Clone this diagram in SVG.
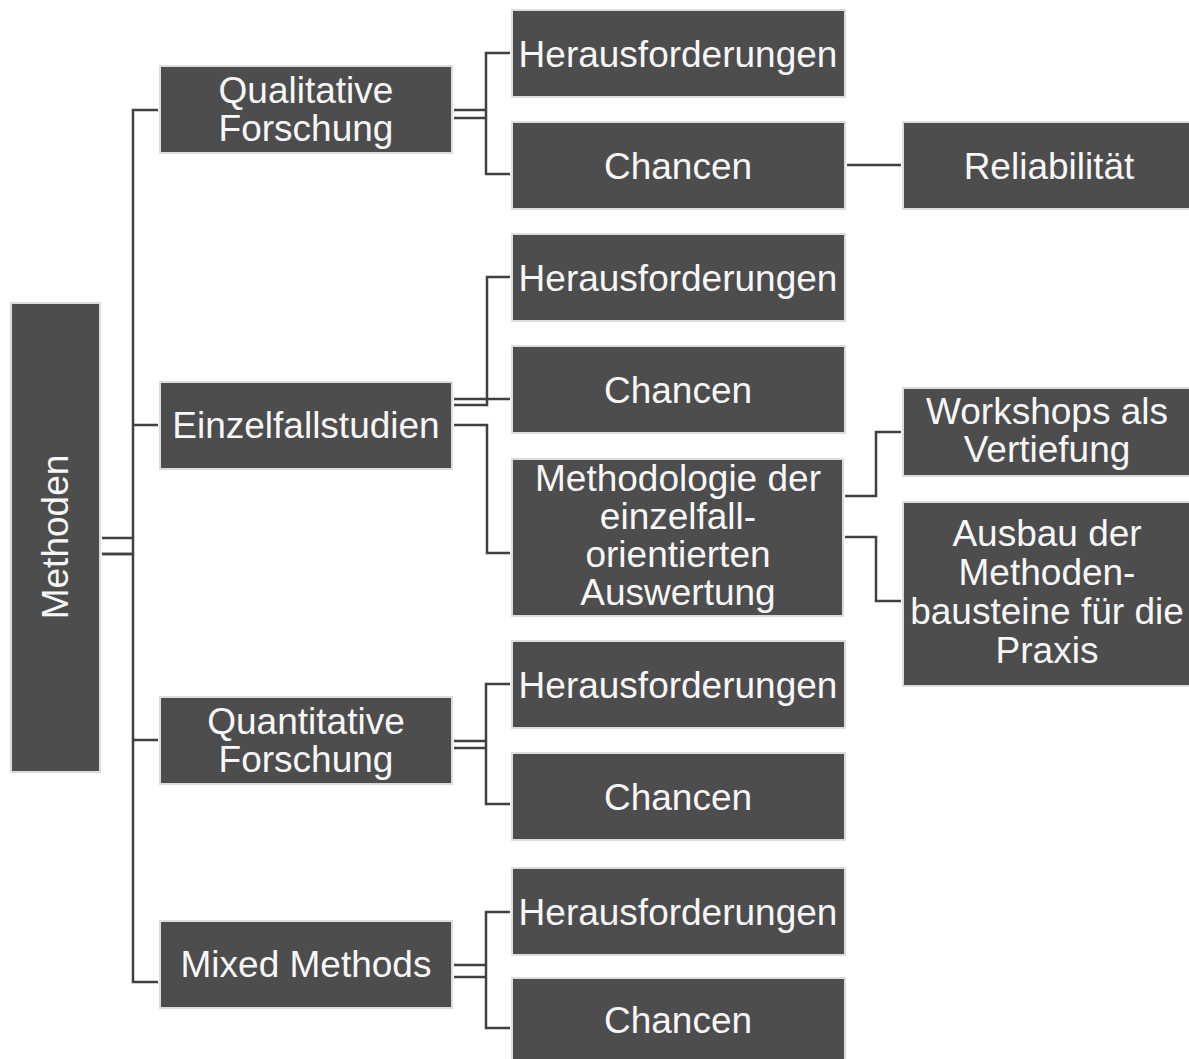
<svg xmlns="http://www.w3.org/2000/svg" width="1189" height="1059" viewBox="0 0 1189 1059">
<style>
.box{fill:#4d4d4d;stroke:#dcdcdc;stroke-width:2}
.t{fill:#f7f7f7;font-family:"Liberation Sans",Arial,sans-serif;font-size:37px;text-anchor:middle}
.c{fill:none;stroke:#404040;stroke-width:2.5}
</style>
<rect width="1189" height="1059" fill="#ffffff"/>
<g id="connectors">
<path class="c" d="M102 538H133M102 554H133" />
<path class="c" d="M102 554H133" stroke-width="4"/>
<path class="c" d="M158 110H133V982H158"/>
<path class="c" d="M133 425H158M133 740H158"/>
<path class="c" d="M454 110H486M454 118H486M510 53H486V174H510"/>
<path class="c" d="M847 165H901"/>
<path class="c" d="M454 405H487V277H510M454 399H510M454 425H487V553H510"/>
<path class="c" d="M845 496H876V432H901M845 537H876V601H901"/>
<path class="c" d="M454 741H486M454 748H486M510 684H486V804H510"/>
<path class="c" d="M454 965H486M454 977H486M510 912H486V1028H510"/>
</g>
<g id="n-methoden"><rect class="box" x="11" y="303" width="89" height="469"/><text class="t" transform="translate(68 537) rotate(-90)">Methoden</text></g>
<g id="n-qual"><rect class="box" x="160" y="66" width="292" height="87"/><text class="t" x="306" y="103">Qualitative</text><text class="t" x="306" y="141">Forschung</text></g>
<g id="n-einzel"><rect class="box" x="160" y="382" width="292" height="87"/><text class="t" x="306" y="438">Einzelfallstudien</text></g>
<g id="n-quant"><rect class="box" x="160" y="697" width="292" height="87"/><text class="t" x="306" y="734">Quantitative</text><text class="t" x="306" y="772">Forschung</text></g>
<g id="n-mixed"><rect class="box" x="160" y="921" width="292" height="87"/><text class="t" x="306" y="977">Mixed Methods</text></g>
<g id="n-h1"><rect class="box" x="512" y="10" width="333" height="87"/><text class="t" x="678" y="67">Herausforderungen</text></g>
<g id="n-c1"><rect class="box" x="512" y="122" width="333" height="87"/><text class="t" x="678" y="179">Chancen</text></g>
<g id="n-h2"><rect class="box" x="512" y="234" width="333" height="87"/><text class="t" x="678" y="291">Herausforderungen</text></g>
<g id="n-c2"><rect class="box" x="512" y="346" width="333" height="87"/><text class="t" x="678" y="403">Chancen</text></g>
<g id="n-meth"><rect class="box" x="512" y="459" width="331" height="157"/><text class="t" x="678" y="491">Methodologie der</text><text class="t" x="678" y="529">einzelfall-</text><text class="t" x="678" y="567">orientierten</text><text class="t" x="678" y="605">Auswertung</text></g>
<g id="n-h3"><rect class="box" x="512" y="641" width="333" height="87"/><text class="t" x="678" y="698">Herausforderungen</text></g>
<g id="n-c3"><rect class="box" x="512" y="753" width="333" height="87"/><text class="t" x="678" y="810">Chancen</text></g>
<g id="n-h4"><rect class="box" x="512" y="868" width="333" height="87"/><text class="t" x="678" y="925">Herausforderungen</text></g>
<g id="n-c4"><rect class="box" x="512" y="978" width="333" height="87"/><text class="t" x="678" y="1033">Chancen</text></g>
<g id="n-rel"><rect class="box" x="903" y="122" width="292" height="87"/><text class="t" x="1049" y="179">Reliabilität</text></g>
<g id="n-work"><rect class="box" x="903" y="388" width="292" height="88"/><text class="t" x="1047" y="424">Workshops als</text><text class="t" x="1047" y="462">Vertiefung</text></g>
<g id="n-ausbau"><rect class="box" x="903" y="502" width="292" height="184"/><text class="t" x="1047" y="546">Ausbau der</text><text class="t" x="1047" y="585">Methoden-</text><text class="t" x="1047" y="624">bausteine für die</text><text class="t" x="1047" y="663">Praxis</text></g>
</svg>
